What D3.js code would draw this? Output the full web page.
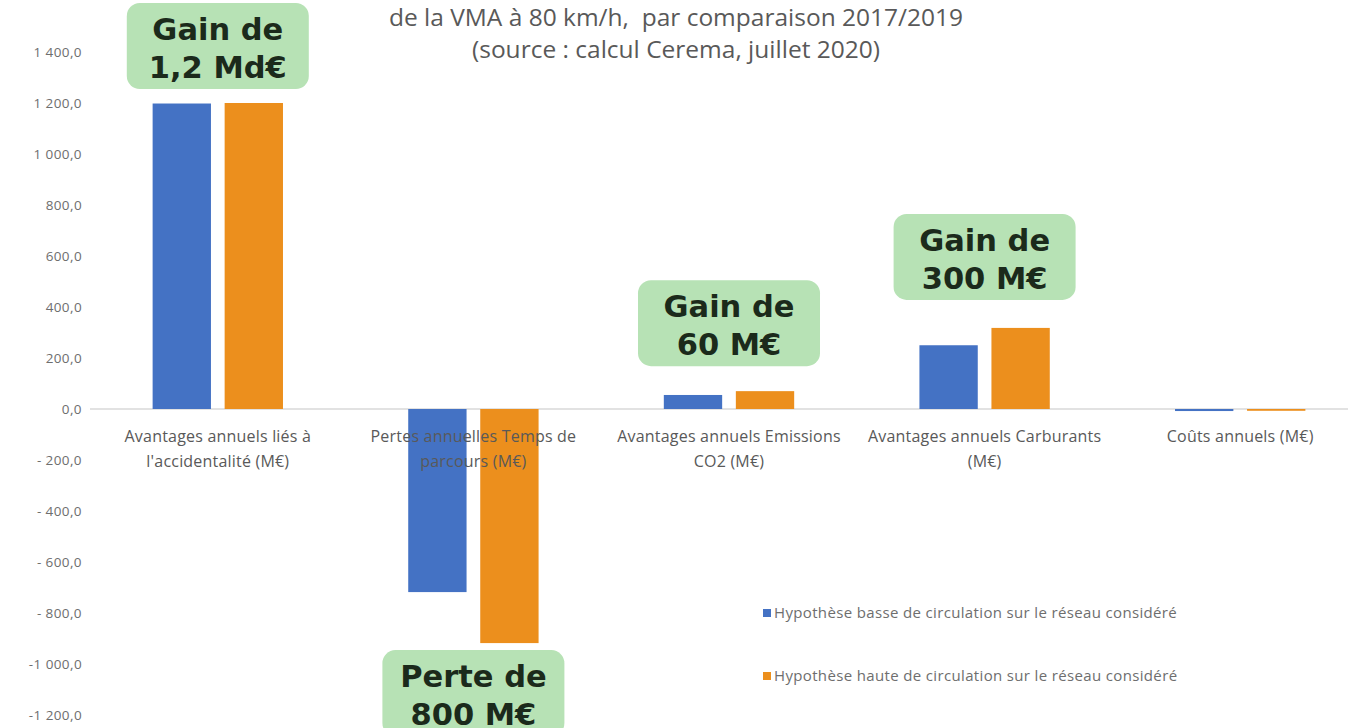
<!DOCTYPE html>
<html><head><meta charset="utf-8">
<script src="https://cdn.jsdelivr.net/npm/d3@7"></script>
<style>
html,body{margin:0;padding:0;background:#fff;}
svg{display:block;font-family:"Open Sans","Noto Sans",sans-serif;}
</style></head>
<body>
<svg id="chart" width="1348" height="728"></svg>
<script>
// ---- data ----
const categories = [
  ["Avantages annuels liés à", "l'accidentalité (M€)"],
  ["Pertes annuelles Temps de", "parcours (M€)"],
  ["Avantages annuels Emissions", "CO2 (M€)"],
  ["Avantages annuels Carburants", "(M€)"],
  ["Coûts annuels (M€)"]
];
const seriesNames = [
  "Hypothèse basse de circulation sur le réseau considéré",
  "Hypothèse haute de circulation sur le réseau considéré"
];
const basse = [1198, -718, 55, 250, -8];
const haute = [1200, -918, 70, 318, -7];
const yTicks = [1400, 1200, 1000, 800, 600, 400, 200, 0, -200, -400, -600, -800, -1000, -1200];
const yTickLabels = ["1 400,0","1 200,0","1 000,0","800,0","600,0","400,0","200,0","0,0",
  "- 200,0","- 400,0","- 600,0","- 800,0","-1 000,0","-1 200,0"];
const titleLines = ["de la VMA à 80 km/h,  par comparaison 2017/2019", "(source : calcul Cerema, juillet 2020)"];
const calloutCat = [0, 2, 3, 1];
const calloutText = [["Gain de","1,2 Md€"],["Gain de","60 M€"],["Gain de","300 M€"],["Perte de","800 M€"]];

// ---- layout ----
const colors = ["#4472c4", "#ec8f1d"];
const svg = d3.select("#chart");
const x0 = d3.scaleBand().domain(d3.range(categories.length)).range([90, 1368]).paddingInner(0.49).paddingOuter(0.245);
const x1 = d3.scaleBand().domain([0, 1]).range([0, x0.bandwidth()]).paddingInner(0.19);
const y = d3.scaleLinear().domain([-1200, 1400]).range([715, 52]);

// title
svg.append("g").selectAll("text").data(titleLines).join("text")
  .attr("x", 676).attr("y", (d, i) => 26 + i * 32)
  .attr("text-anchor", "middle").attr("fill", "#595959")
  .style("white-space", "pre")
  .style("font-family", "'Open Sans',sans-serif").style("font-size", "24.5px")
  .text(d => d);

// y axis labels
const yAxis = d3.axisLeft(y).tickValues(yTicks).tickSize(0).tickPadding(0)
  .tickFormat((d, i) => yTickLabels[i]);
const ga = svg.append("g").attr("transform", "translate(82,0)").call(yAxis);
ga.select(".domain").remove();
ga.selectAll("text").attr("fill", "#6e6e6e").style("font-size", "13.5px")
  .style("letter-spacing", "0.4px").style("font-family", "'Open Sans',sans-serif");

// zero line
svg.append("line").attr("x1", 90).attr("x2", 1348).attr("y1", y(0)).attr("y2", y(0))
  .attr("stroke", "#d9d9d9").attr("stroke-width", 1.5);

// bars
const series = [basse, haute];
const groups = svg.append("g").selectAll("g").data(categories.map((c, i) => i)).join("g")
  .attr("transform", i => `translate(${x0(i)},0)`);
groups.selectAll("rect").data(i => series.map((s, k) => ({k, v: s[i]}))).join("rect")
  .attr("x", d => x1(d.k)).attr("width", x1.bandwidth())
  .attr("y", d => y(Math.max(0, d.v))).attr("height", d => Math.abs(y(d.v) - y(0)))
  .attr("fill", d => colors[d.k]);

// category labels
const cl = svg.append("g").selectAll("text").data(categories).join("text")
  .attr("text-anchor", "middle").attr("fill", "#595959")
  .style("font-size", "16px").style("letter-spacing", "0.2px").style("font-family", "'Open Sans',sans-serif")
  .attr("transform", (d, i) => `translate(${x0(i) + x0.bandwidth() / 2},0)`);
cl.selectAll("tspan").data(d => d).join("tspan")
  .attr("x", 0).attr("y", (d, j) => 442 + j * 25).text(d => d);

// legend
const lg = svg.append("g").selectAll("g").data(seriesNames).join("g")
  .attr("transform", (d, i) => `translate(763,${613 + i * 63})`);
lg.append("rect").attr("x", 0).attr("y", -4).attr("width", 8).attr("height", 8).attr("fill", (d, i) => colors[i]);
lg.append("text").attr("x", 11).attr("y", 5).attr("fill", "#6e6e6e")
  .style("font-size", "15px").style("letter-spacing", "0.35px").style("font-family", "'Open Sans',sans-serif").text(d => d);

// callouts
const boxW = 182, boxH = 86;
const gaps = [14, 25, 28, 7];
const cg = svg.append("g").selectAll("g").data(calloutText).join("g")
  .attr("transform", (d, i) => {
    const c = calloutCat[i];
    const cx = x0(c) + x0.bandwidth() / 2;
    const vmax = Math.max(basse[c], haute[c]);
    const vmin = Math.min(basse[c], haute[c]);
    const top = vmax > 0 ? y(vmax) - gaps[i] - boxH : y(vmin) + gaps[i];
    return `translate(${cx},${top})`;
  });
cg.append("rect").attr("x", -boxW / 2).attr("y", 0).attr("width", boxW).attr("height", boxH)
  .attr("rx", 13).attr("fill", "#b7e2b5");
cg.append("text").attr("text-anchor", "middle").attr("fill", "#1b2a1b")
  .style("font-family", "'DejaVu Sans',sans-serif").style("font-weight", "bold").style("font-size", "30.5px")
  .selectAll("tspan").data(d => d).join("tspan")
  .attr("x", 0).attr("y", (d, j) => 37 + j * 38).text(d => d);
</script>
</body></html>
